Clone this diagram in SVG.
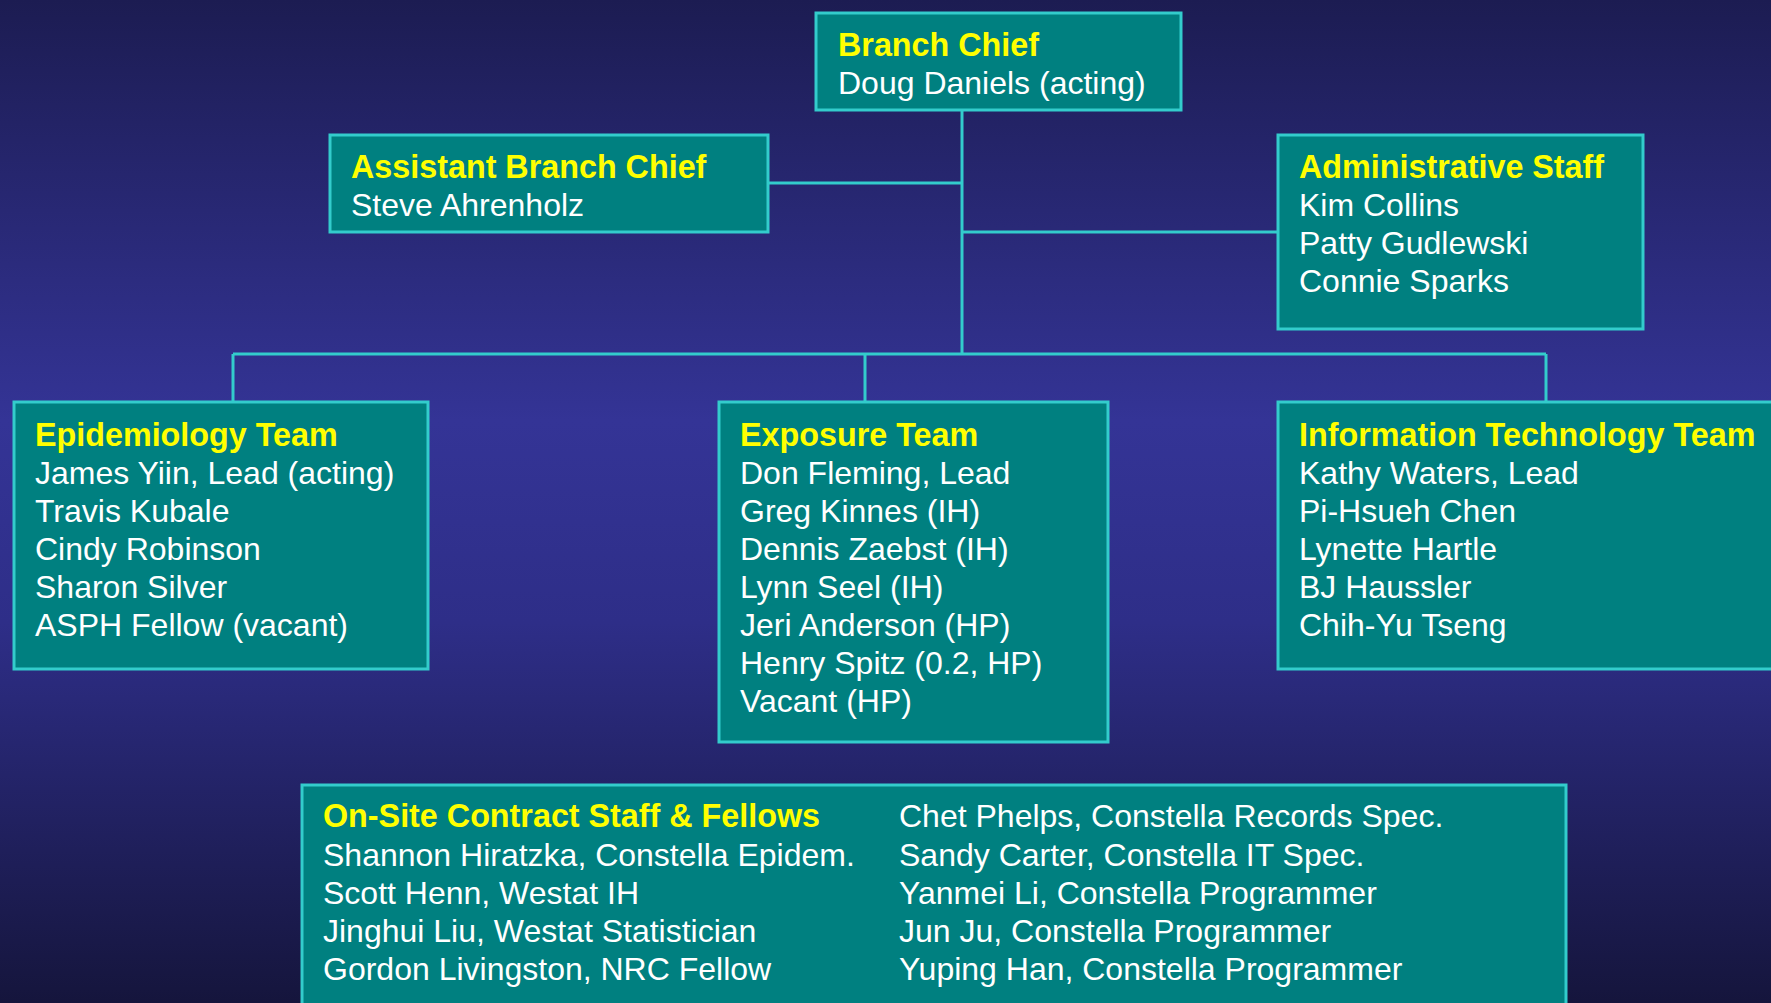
<svg xmlns="http://www.w3.org/2000/svg" width="1771" height="1003" viewBox="0 0 1771 1003">
<defs>
<linearGradient id="bg" x1="0" y1="0" x2="0" y2="1">
<stop offset="0" stop-color="#1c1c52"/>
<stop offset="0.42" stop-color="#343496"/>
<stop offset="0.62" stop-color="#2e2e88"/>
<stop offset="1" stop-color="#15153c"/>
</linearGradient>
</defs>
<style>
.box{fill:#008080;stroke:#33cccc;stroke-width:3}
.h{font-family:"Liberation Sans",Arial,sans-serif;font-weight:bold;font-size:32.3px;fill:#ffff00}
.t{font-family:"Liberation Sans",Arial,sans-serif;font-size:32px;fill:#ffffff}
.c{stroke:#33cccc;stroke-width:3;fill:none}
</style>
<rect x="0" y="0" width="1771" height="1003" fill="url(#bg)"/>
<g id="connectors">
<path class="c" d="M962 111V354"/>
<path class="c" d="M768 183H962"/>
<path class="c" d="M962 232H1277"/>
<path class="c" d="M233 354H1546"/>
<path class="c" d="M233 354V402"/>
<path class="c" d="M865 354V402"/>
<path class="c" d="M1546 354V402"/>
</g>
<g id="branch-chief">
<rect class="box" x="816" y="13" width="365" height="97"/>
<text class="h" x="838" y="56">Branch Chief</text>
<text class="t" x="838" y="94">Doug Daniels (acting)</text>
</g>
<g id="assistant-branch-chief">
<rect class="box" x="330" y="135" width="438" height="97"/>
<text class="h" x="351" y="178">Assistant Branch Chief</text>
<text class="t" x="351" y="216">Steve Ahrenholz</text>
</g>
<g id="administrative-staff">
<rect class="box" x="1278" y="135" width="365" height="194"/>
<text class="h" x="1299" y="178">Administrative Staff</text>
<text class="t" x="1299" y="216">Kim Collins</text>
<text class="t" x="1299" y="254">Patty Gudlewski</text>
<text class="t" x="1299" y="292">Connie Sparks</text>
</g>
<g id="epidemiology-team">
<rect class="box" x="14" y="402" width="414" height="267"/>
<text class="h" x="35" y="446">Epidemiology Team</text>
<text class="t" x="35" y="484">James Yiin, Lead (acting)</text>
<text class="t" x="35" y="522">Travis Kubale</text>
<text class="t" x="35" y="560">Cindy Robinson</text>
<text class="t" x="35" y="598">Sharon Silver</text>
<text class="t" x="35" y="636">ASPH Fellow (vacant)</text>
</g>
<g id="exposure-team">
<rect class="box" x="719" y="402" width="389" height="340"/>
<text class="h" x="740" y="446">Exposure Team</text>
<text class="t" x="740" y="484">Don Fleming, Lead</text>
<text class="t" x="740" y="522">Greg Kinnes (IH)</text>
<text class="t" x="740" y="560">Dennis Zaebst (IH)</text>
<text class="t" x="740" y="598">Lynn Seel (IH)</text>
<text class="t" x="740" y="636">Jeri Anderson (HP)</text>
<text class="t" x="740" y="674">Henry Spitz (0.2, HP)</text>
<text class="t" x="740" y="712">Vacant (HP)</text>
</g>
<g id="it-team">
<rect class="box" x="1278" y="402" width="520" height="267"/>
<text class="h" x="1299" y="446">Information Technology Team</text>
<text class="t" x="1299" y="484">Kathy Waters, Lead</text>
<text class="t" x="1299" y="522">Pi-Hsueh Chen</text>
<text class="t" x="1299" y="560">Lynette Hartle</text>
<text class="t" x="1299" y="598">BJ Haussler</text>
<text class="t" x="1299" y="636">Chih-Yu Tseng</text>
</g>
<g id="contract-staff">
<rect class="box" x="302" y="785" width="1264" height="240"/>
<text class="h" x="323" y="827">On-Site Contract Staff &amp; Fellows</text>
<text class="t" x="323" y="866">Shannon Hiratzka, Constella Epidem.</text>
<text class="t" x="323" y="904">Scott Henn, Westat IH</text>
<text class="t" x="323" y="942">Jinghui Liu, Westat Statistician</text>
<text class="t" x="323" y="980">Gordon Livingston, NRC Fellow</text>
<text class="t" x="899" y="827">Chet Phelps, Constella Records Spec.</text>
<text class="t" x="899" y="866">Sandy Carter, Constella IT Spec.</text>
<text class="t" x="899" y="904">Yanmei Li, Constella Programmer</text>
<text class="t" x="899" y="942">Jun Ju, Constella Programmer</text>
<text class="t" x="899" y="980">Yuping Han, Constella Programmer</text>
</g>
</svg>
